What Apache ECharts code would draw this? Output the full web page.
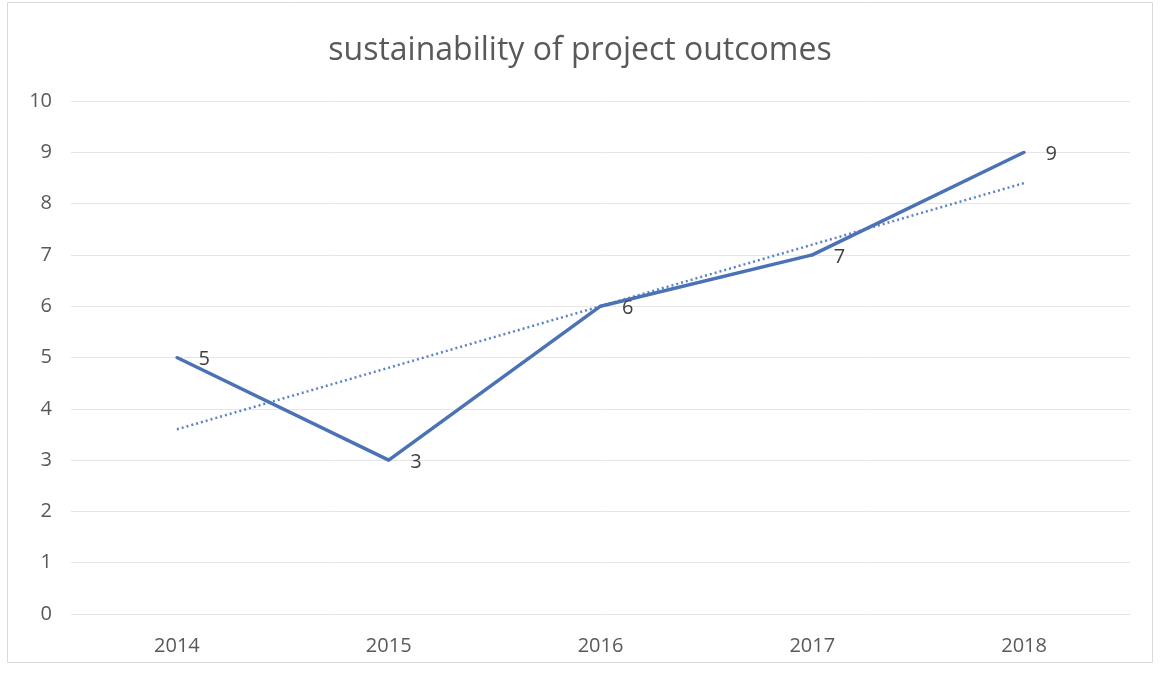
<!DOCTYPE html>
<html>
<head>
<meta charset="utf-8">
<script src="https://cdn.jsdelivr.net/npm/echarts@6/dist/echarts.min.js"></script>
<style>
  html, body { margin: 0; padding: 0; background: #ffffff; }
  #chart { width: 1160px; height: 673px; }
</style>
</head>
<body>
<div id="chart"></div>
<script>
// Yearly scores and their linear trend
const years = ['2014', '2015', '2016', '2017', '2018'];
const scores = [5, 3, 6, 7, 9];
const trend = [3.6, 4.8, 6.0, 7.2, 8.4];
const yTicks = [0, 1, 2, 3, 4, 5, 6, 7, 8, 9, 10];

const chart = echarts.init(document.getElementById('chart'), null, { renderer: 'canvas' });
const font = '"Open Sans", "Noto Sans", sans-serif';
const lineColor = '#4a72b4';

chart.setOption({
  animation: false,
  backgroundColor: '#ffffff',
  title: {
    text: 'sustainability of project outcomes',
    left: 'center',
    top: 30,
    textStyle: { fontFamily: font, fontSize: 32, fontWeight: 'normal', color: '#595959' }
  },
  graphic: [{
    type: 'rect',
    shape: { x: 7.5, y: 2.5, width: 1145, height: 660 },
    style: { fill: 'none', stroke: '#d9d9d9', lineWidth: 1 },
    silent: true
  }],
  grid: { left: 71, right: 30, top: 101, bottom: 59 },
  xAxis: {
    type: 'category',
    data: years,
    boundaryGap: true,
    axisLine: { show: false },
    axisTick: { show: false },
    axisLabel: { margin: 22, fontFamily: font, fontSize: 20, color: '#595959' }
  },
  yAxis: {
    type: 'value',
    min: yTicks[0],
    max: yTicks[yTicks.length - 1],
    interval: 1,
    axisLine: { show: false },
    axisTick: { show: false },
    splitLine: { lineStyle: { color: '#e6e6e6', width: 1 } },
    axisLabel: { margin: 19, fontFamily: font, fontSize: 20, color: '#595959' }
  },
  series: [
    {
      name: 'score',
      type: 'line',
      data: scores,
      symbol: 'circle',
      symbolSize: 3,
      showSymbol: true,
      itemStyle: { color: lineColor, borderWidth: 0 },
      lineStyle: { color: lineColor, width: 3.5 },
      label: {
        show: true,
        position: 'right',
        distance: 20,
        offset: [0, 2],
        fontFamily: font,
        fontSize: 20,
        color: '#404040'
      },
      z: 3
    },
    {
      name: 'trend',
      type: 'line',
      data: trend,
      symbol: 'none',
      lineStyle: { color: '#5b84c4', width: 2.5, type: [2, 3] },
      z: 2
    }
  ]
});
</script>
</body>
</html>
